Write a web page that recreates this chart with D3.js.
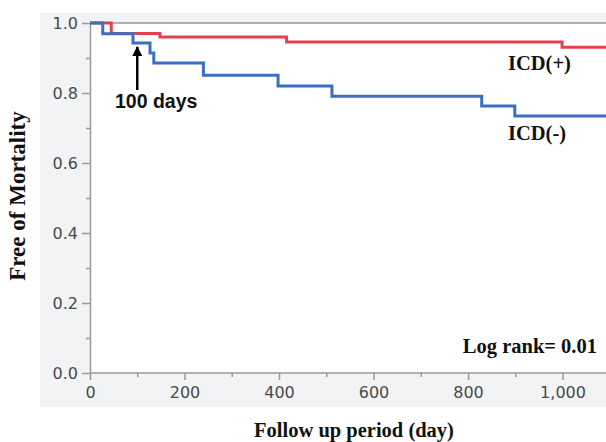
<!DOCTYPE html>
<html>
<head>
<meta charset="utf-8">
<script src="https://cdn.jsdelivr.net/npm/d3@7"></script>
<style>
  body { margin: 0; background: #fff; }
  .tick text { font-family: "DejaVu Sans", Verdana, sans-serif; font-size: 16px; fill: #4a4a4a; }
  .lbl { font-family: "Liberation Serif", "Times New Roman", serif; font-weight: bold; fill: #111; }
</style>
</head>
<body>
<div id="main"></div>
<script>
// Kaplan-Meier steps
const icdPosDays = [0, 45, 148, 416, 999, 1100];
const icdPosSurv = [1.0, 0.97, 0.96, 0.946, 0.931, 0.931];
const icdNegDays = [0, 27, 91, 127, 135, 240, 398, 512, 829, 899, 1100];
const icdNegSurv = [1.0, 0.969, 0.943, 0.914, 0.886, 0.851, 0.82, 0.791, 0.763, 0.734, 0.734];

const xTicks = [0, 200, 400, 600, 800, 1000];
const xMinor = [100, 300, 500, 700, 900, 1100];
const yTicks = [0, 0.2, 0.4, 0.6, 0.8, 1.0];
const yMinor = [0.1, 0.3, 0.5, 0.7, 0.9];

const W = 606, H = 442;
const pl = 90, pt = 23, pb = 373, pr = 606;

const svg = d3.select('#main').append('svg')
  .attr('width', W).attr('height', H);

// grey panel + white plot area
svg.append('rect').attr('x', 40).attr('y', 13).attr('width', W - 40).attr('height', 394)
  .attr('fill', '#f1f3f5');
svg.append('rect').attr('x', pl).attr('y', pt).attr('width', pr - pl).attr('height', pb - pt)
  .attr('fill', '#fff');

const xScale = d3.scaleLinear().domain([0, 1092]).range([pl, pr]);
const yScale = d3.scaleLinear().domain([0, 1]).range([pb, pt]);

const defs = svg.append('defs');
defs.append('clipPath').attr('id', 'clip')
  .append('rect').attr('x', pl).attr('y', pt - 5).attr('width', pr - pl).attr('height', pb - pt + 5);

// top border
svg.append('line').attr('x1', pl).attr('x2', pr).attr('y1', pt).attr('y2', pt)
  .attr('stroke', '#9a9a9a').attr('stroke-width', 1.5);

// axes
const xAxis = d3.axisBottom(xScale).tickValues(xTicks).tickFormat(d3.format(',')).tickSize(7).tickPadding(7).tickSizeOuter(0);
const yAxis = d3.axisLeft(yScale).tickValues(yTicks).tickFormat(d3.format('.1f')).tickSize(8).tickPadding(4).tickSizeOuter(0);

const gx = svg.append('g').attr('transform', `translate(0,${pb})`).call(xAxis);
const gy = svg.append('g').attr('transform', `translate(${pl},0)`).call(yAxis);

svg.append('g').attr('transform', `translate(0,${pb})`)
  .call(d3.axisBottom(xScale).tickValues(xMinor).tickFormat('').tickSize(4).tickSizeOuter(0))
  .select('.domain').remove();
svg.append('g').attr('transform', `translate(${pl},0)`)
  .call(d3.axisLeft(yScale).tickValues(yMinor).tickFormat('').tickSize(4).tickSizeOuter(0))
  .select('.domain').remove();

svg.selectAll('.domain, .tick line').attr('stroke', '#9a9a9a').attr('stroke-width', 1.5);
gx.select('.domain').attr('d', `M${pl},0H${pr}`);

// survival curves
const line = d3.line()
  .x(d => xScale(d[0]))
  .y(d => yScale(d[1]))
  .curve(d3.curveStepAfter);

const curves = [
  { name: 'ICD(+)', days: icdPosDays, surv: icdPosSurv, color: '#e2424f' },
  { name: 'ICD(-)', days: icdNegDays, surv: icdNegSurv, color: '#3b6ec4' }
];

svg.append('g').attr('clip-path', 'url(#clip)')
  .selectAll('path')
  .data(curves)
  .join('path')
  .attr('fill', 'none')
  .attr('stroke', d => d.color)
  .attr('stroke-width', 3)
  .attr('d', d => line(d.days.map((v, i) => [v, d.surv[i]])));

// curve labels
svg.append('text').attr('class', 'lbl').attr('x', 508).attr('y', 70).attr('font-size', 20.5).text('ICD(+)');
svg.append('text').attr('class', 'lbl').attr('x', 508).attr('y', 140).attr('font-size', 20.5).text('ICD(-)');
svg.append('text').attr('class', 'lbl').attr('x', 597).attr('y', 353).attr('text-anchor', 'end')
  .attr('font-size', 20.5).text('Log rank= 0.01');

// 100 days annotation
defs.append('marker').attr('id', 'arrow')
  .attr('viewBox', '0 0 10 10').attr('refX', 9).attr('refY', 5)
  .attr('markerWidth', 4).attr('markerHeight', 4).attr('orient', 'auto')
  .append('path').attr('d', 'M0,0L10,5L0,10z').attr('fill', '#000');
svg.append('line')
  .attr('x1', xScale(100)).attr('x2', xScale(100))
  .attr('y1', 90).attr('y2', 47)
  .attr('stroke', '#000').attr('stroke-width', 2.5)
  .attr('marker-end', 'url(#arrow)');
svg.append('text').attr('x', 115).attr('y', 108)
  .attr('font-family', '"Liberation Sans", Arial, sans-serif').attr('font-weight', 'bold')
  .attr('font-size', 19.5).attr('fill', '#111').text('100 days');

// axis titles
svg.append('text').attr('class', 'lbl').attr('x', 354).attr('y', 437)
  .attr('text-anchor', 'middle').attr('font-size', 20.5).text('Follow up period (day)');
svg.append('text').attr('class', 'lbl')
  .attr('transform', 'translate(25,196) rotate(-90)')
  .attr('text-anchor', 'middle').attr('font-size', 23).text('Free of Mortality');
</script>
</body>
</html>
